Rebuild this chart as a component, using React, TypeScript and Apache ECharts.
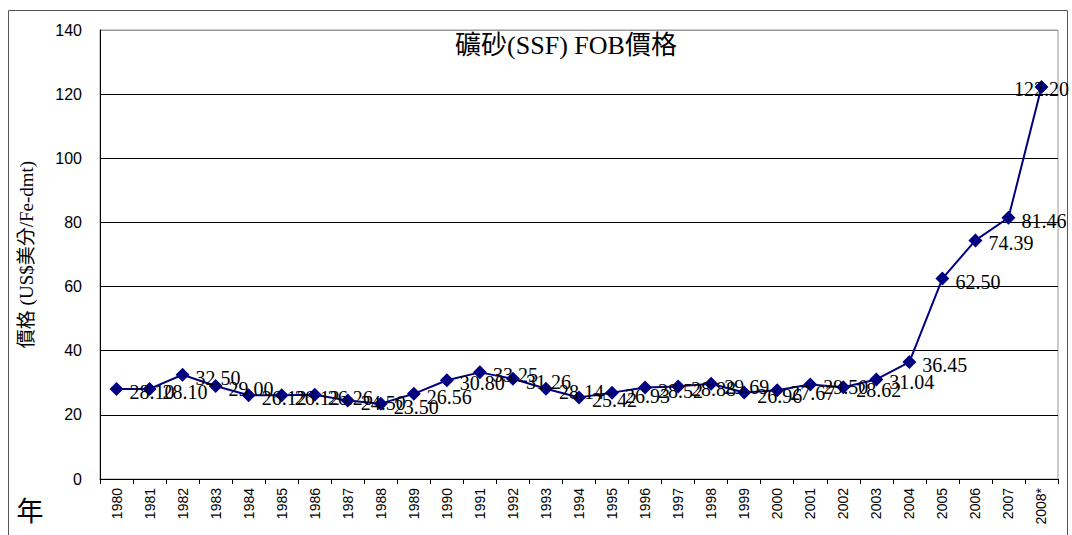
import React, { useEffect, useRef } from "react";
import * as echarts from "echarts";

// Iron ore (SSF) FOB price, US cents per Fe-dmt
const years = [
  "1980", "1981", "1982", "1983", "1984", "1985", "1986", "1987", "1988", "1989",
  "1990", "1991", "1992", "1993", "1994", "1995", "1996", "1997", "1998", "1999",
  "2000", "2001", "2002", "2003", "2004", "2005", "2006", "2007", "2008*",
];
const prices = [
  28.1, 28.1, 32.5, 29.0, 26.12, 26.12, 26.26, 24.5, 23.5, 26.56,
  30.8, 33.25, 31.26, 28.14, 25.42, 26.93, 28.52, 28.88, 29.69, 26.96,
  27.67, 29.5, 28.62, 31.04, 36.45, 62.5, 74.39, 81.46, 122.2,
];
const yTicks = { min: 0, max: 140, interval: 20 };

const titleText = "礦砂(SSF) FOB價格";
const yName = "價格 (US$美分/Fe-dmt)";
const xName = "年";

const serif = '"Liberation Serif", "Noto Sans CJK TC", serif';
const tickFont = '"Liberation Sans", "DejaVu Sans", sans-serif';

export default function App() {
  const ref = useRef<HTMLDivElement>(null);

  useEffect(() => {
    if (!ref.current) return;
    const chart = echarts.init(ref.current, undefined, { renderer: "svg" });
    const last = prices.length - 1;
    chart.setOption({
      animation: false,
      backgroundColor: "#fff",
      grid: {
        left: 100,
        right: 14,
        top: 30,
        bottom: 56,
        show: true,
        borderColor: "#999",
        borderWidth: 1,
        outerBoundsMode: "none",
      },
      graphic: [
        {
          type: "rect",
          shape: { x: 8.5, y: 10.5, width: 1059, height: 540 },
          style: { fill: "none", stroke: "#555", lineWidth: 1 },
          silent: true,
        },
        {
          type: "text",
          x: 566,
          y: 45,
          style: {
            text: titleText,
            font: `26px ${serif}`,
            fill: "#000",
            textAlign: "center",
            textVerticalAlign: "middle",
          },
        },
        {
          type: "text",
          x: 30,
          y: 512,
          style: {
            text: xName,
            font: `27px ${serif}`,
            fill: "#000",
            textAlign: "center",
            textVerticalAlign: "middle",
          },
        },
      ],
      xAxis: {
        type: "category",
        data: years,
        boundaryGap: true,
        axisLine: { lineStyle: { color: "#000", width: 1 } },
        axisTick: { show: true, length: 5, lineStyle: { color: "#000" } },
        axisLabel: {
          rotate: 90,
          interval: 0,
          margin: 9,
          color: "#000",
          fontSize: 14,
          fontFamily: tickFont,
        },
      },
      yAxis: {
        type: "value",
        min: yTicks.min,
        max: yTicks.max,
        interval: yTicks.interval,
        name: yName,
        nameLocation: "middle",
        nameRotate: 90,
        nameGap: 64,
        nameTextStyle: { color: "#000", fontSize: 19, fontFamily: serif },
        axisLine: { show: true, lineStyle: { color: "#000", width: 1 } },
        axisTick: { show: false },
        axisLabel: { color: "#000", fontSize: 16, fontFamily: tickFont, margin: 18 },
        splitLine: {
          show: true,
          lineStyle: {
            color: ["#000", "#000", "#000", "#000", "#000", "#000", "#000", "#999"],
            width: 1,
          },
        },
      },
      series: [
        {
          type: "line",
          data: prices.map((v, i) =>
            i === last
              ? { value: v, label: { position: "inside", offset: [0, 2] } }
              : v
          ),
          symbol: "diamond",
          symbolSize: 14,
          lineStyle: { color: "#000080", width: 2 },
          itemStyle: { color: "#000080" },
          label: {
            show: true,
            position: "right",
            distance: 6,
            offset: [0, 3],
            color: "#000",
            fontSize: 20,
            fontFamily: serif,
            formatter: (p: any) => Number(p.value).toFixed(2),
          },
          z: 3,
        },
      ],
    });
    return () => chart.dispose();
  }, []);

  return (
    <div
      ref={ref}
      style={{ position: "absolute", left: 0, top: 0, width: 1072, height: 535 }}
    />
  );
}
